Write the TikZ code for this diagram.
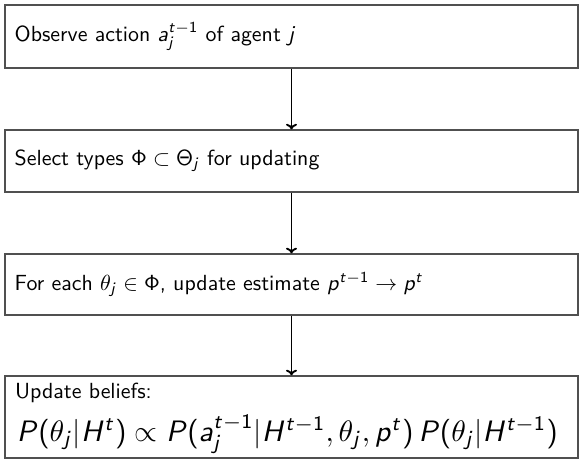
\documentclass[tikz,border=0pt]{standalone}
\usetikzlibrary{arrows.meta}

% Sans-serif text, with Latin letters and digits in math taken from CM Sans
\renewcommand{\familydefault}{\sfdefault}
\DeclareSymbolFont{sfletters}{OT1}{cmss}{m}{sl}
\SetSymbolFont{operators}{normal}{OT1}{cmss}{m}{n}
\newcount\lettcount
\lettcount=`a
\loop
  \mathcode\lettcount=\numexpr "7000+\symsfletters*"100+\lettcount\relax
  \advance\lettcount by 1
\ifnum\lettcount<`z \repeat
\mathcode`z=\numexpr "7000+\symsfletters*"100+`z\relax
\lettcount=`A
\loop
  \mathcode\lettcount=\numexpr "7000+\symsfletters*"100+\lettcount\relax
  \advance\lettcount by 1
\ifnum\lettcount<`Z \repeat
\mathcode`Z=\numexpr "7000+\symsfletters*"100+`Z\relax

\definecolor{boxline}{RGB}{80,80,80}

\tikzset{
  px/.style={x=0.457pt,y=0.457pt},
  stepbox/.style={draw=boxline,line width=0.55pt,rectangle,
    minimum width=261.9pt,text width=253pt,align=left,
    inner xsep=4.45pt,inner ysep=0pt,font=\sffamily},
  boxtext/.style={inner sep=0pt,anchor=base west,font=\sffamily},
  flow/.style={draw=black,line width=0.85pt,-{To[length=2.6pt,width=5pt]}}
}

\begin{document}
\begin{tikzpicture}[px]
  \useasboundingbox (0,0) rectangle (583,464);

  \node[stepbox,minimum height=28.8pt] (observe) at (291.5,427.5)
    {Observe action $a_j^{t-1}$ of agent $j$};
  \node[stepbox,minimum height=28.3pt] (select) at (291.5,303)
    {Select types $\Phi\subset\Theta_j$ for updating};
  \node[stepbox,minimum height=27.9pt] (estimate) at (291.5,179.5)
    {For each $\theta_j\in\Phi$, update estimate $p^{t-1}\rightarrow p^t$};
  \node[stepbox,minimum height=37.5pt] (beliefs) at (291.5,47) {};

  % contents of the last box: a heading and the belief update rule
  \node[boxtext] (beliefsTitle) at (14.7,66) {Update beliefs:};
  \node[boxtext] (beliefsRule) at (16.5,23)
    {\scalebox{1.35}{$P(\theta_j|H^t)\propto P(a_j^{t-1}|H^{t-1},\theta_j,p^t)\,P(\theta_j|H^{t-1})$}};

  \draw[flow] (observe.south) -- (select.north);
  \draw[flow] (select.south) -- (estimate.north);
  \draw[flow] (estimate.south) -- (beliefs.north);
\end{tikzpicture}
\end{document}
